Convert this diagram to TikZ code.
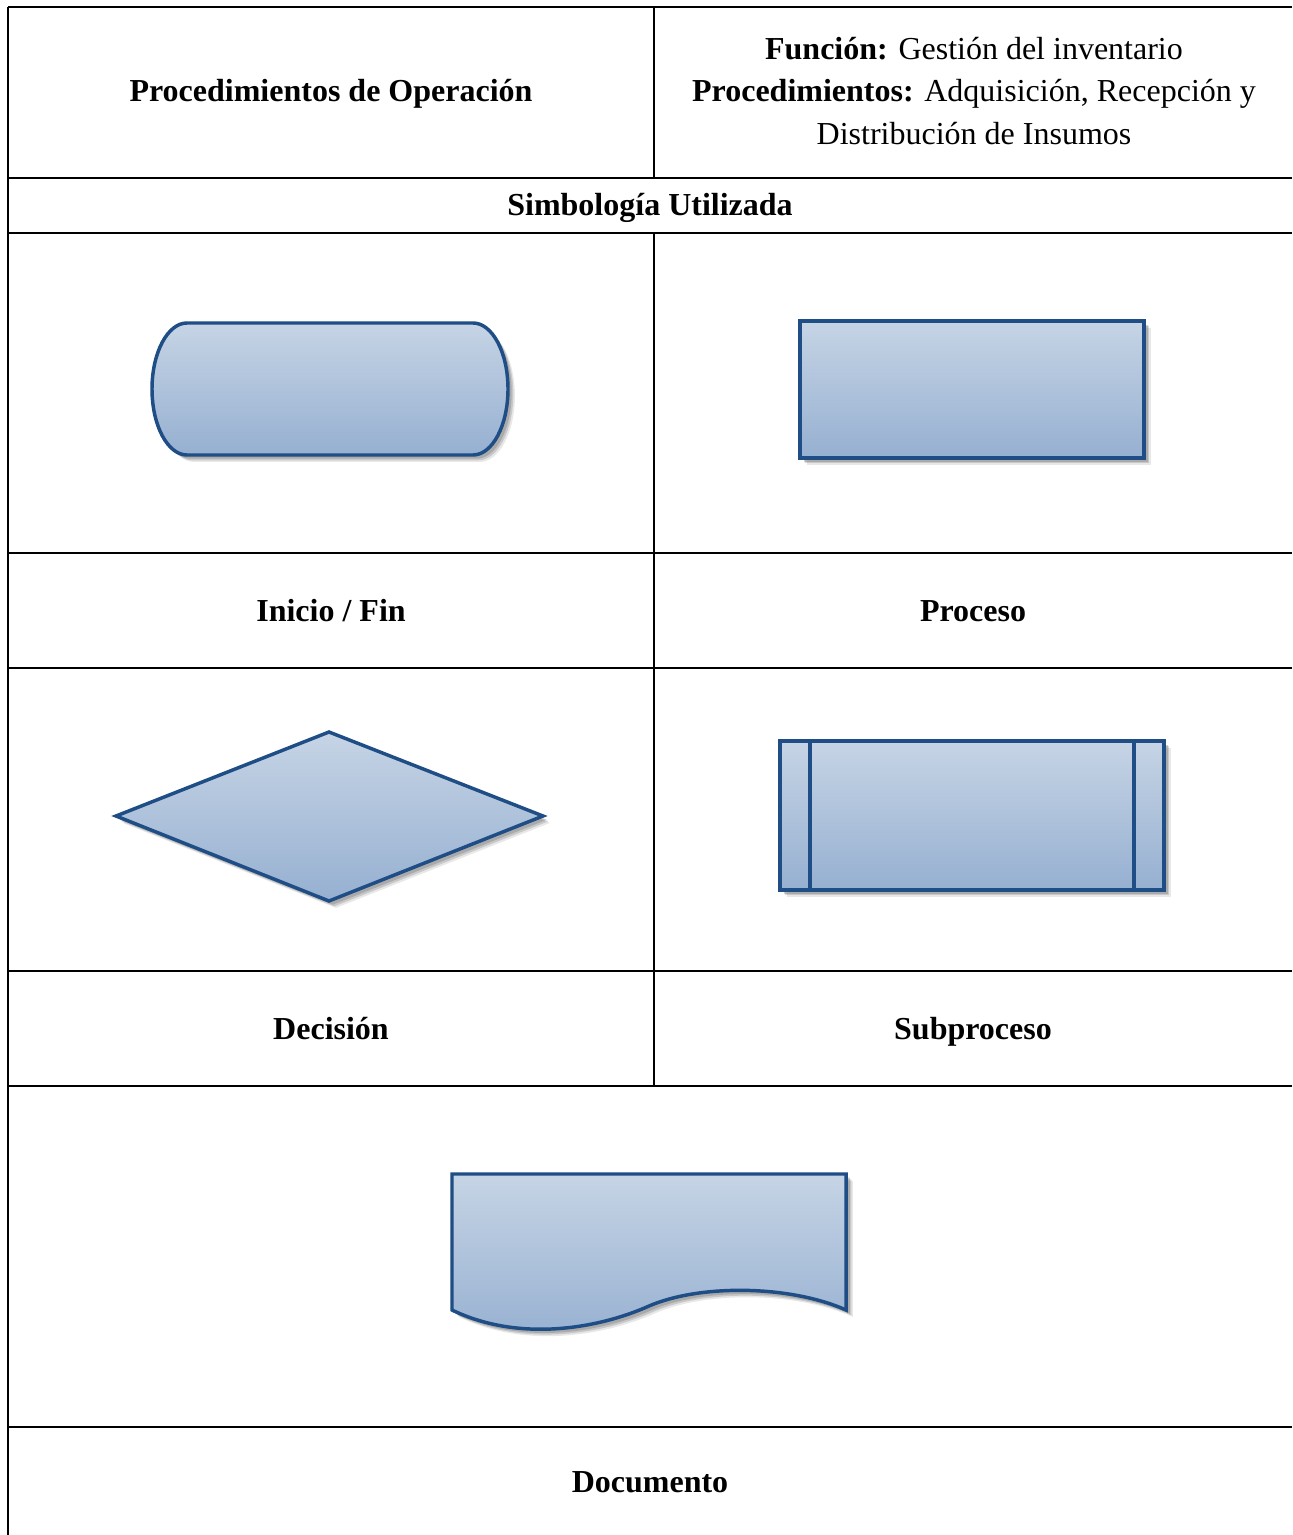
\documentclass[tikz,border=0pt]{standalone}
\usepackage{fontspec}
\setmainfont{Liberation Serif}
\usetikzlibrary{shadows}
\definecolor{shptop}{HTML}{C6D4E5}
\definecolor{shpbot}{HTML}{96B0D1}
\definecolor{shpborder}{HTML}{1F4D85}
\tikzset{
  grid/.style={line width=0.75pt, draw=black},
  shp/.style={draw=shpborder, line width=1.3pt, top color=shptop, bottom color=shpbot,
    drop shadow={shadow xshift=2.6pt, shadow yshift=-2.6pt, opacity=0.15, fill=black!60},
    drop shadow={shadow xshift=2.0pt, shadow yshift=-2.0pt, opacity=0.25, fill=black!60},
    drop shadow={shadow xshift=1.4pt, shadow yshift=-1.4pt, opacity=0.3, fill=black!60}},
  lbl/.style={font=\fontsize{12}{14}\selectfont\bfseries, anchor=base},
  txt/.style={font=\fontsize{12}{14}\selectfont, anchor=base},
}
\begin{document}
\begin{tikzpicture}[x=0.375pt,y=-0.375pt]
\useasboundingbox (0,0) rectangle (1292,1535);
% table lines
\draw[grid] (8,7) -- (1292,7);
\draw[grid] (8,178) -- (1292,178);
\draw[grid] (8,233) -- (1292,233);
\draw[grid] (8,553) -- (1292,553);
\draw[grid] (8,668) -- (1292,668);
\draw[grid] (8,971) -- (1292,971);
\draw[grid] (8,1086) -- (1292,1086);
\draw[grid] (8,1427) -- (1292,1427);
\draw[grid] (8,7) -- (8,1535);
\draw[grid] (654,7) -- (654,178);
\draw[grid] (654,233) -- (654,1086);
% header texts
\node[lbl] (proc) at (331,102) {Procedimientos de Operación};
\node[txt] (f1) at (974,60) {\textbf{Función:} Gestión del inventario};
\node[txt] (f2) at (974,102) {\textbf{Procedimientos:} Adquisición, Recepción y};
\node[txt] (f3) at (974,145) {Distribución de Insumos};
\node[lbl] (simb) at (650,216) {Simbología Utilizada};
% shapes
\path[shp] (187,323) -- (473,323) arc[start angle=-90, end angle=90, x radius=35, y radius=66]
  -- (187,455) arc[start angle=90, end angle=270, x radius=35, y radius=66] -- cycle;
\path[shp] (800,321) rectangle (1144,458);
\path[shp] (116,816) -- (329,732) -- (543,816) -- (329,901) -- cycle;
\path[shp] (780,741) rectangle (1164,890);
\draw[shpborder, line width=1.3pt] (810,741) -- (810,890);
\draw[shpborder, line width=1.3pt] (1134,741) -- (1134,890);
\path[shp] (452,1174) -- (846,1174) -- (846,1310)
  .. controls (790,1285) and (700,1284) .. (649,1306)
  .. controls (600,1328) and (520,1343) .. (452,1310) -- cycle;
% labels
\node[lbl] (ini) at (331,621) {Inicio / Fin};
\node[lbl] (pro) at (973,621) {Proceso};
\node[lbl] (dec) at (331,1039) {Decisión};
\node[lbl] (sub) at (973,1039) {Subproceso};
\node[lbl] (doc) at (650,1492) {Documento};
\end{tikzpicture}
\end{document}
